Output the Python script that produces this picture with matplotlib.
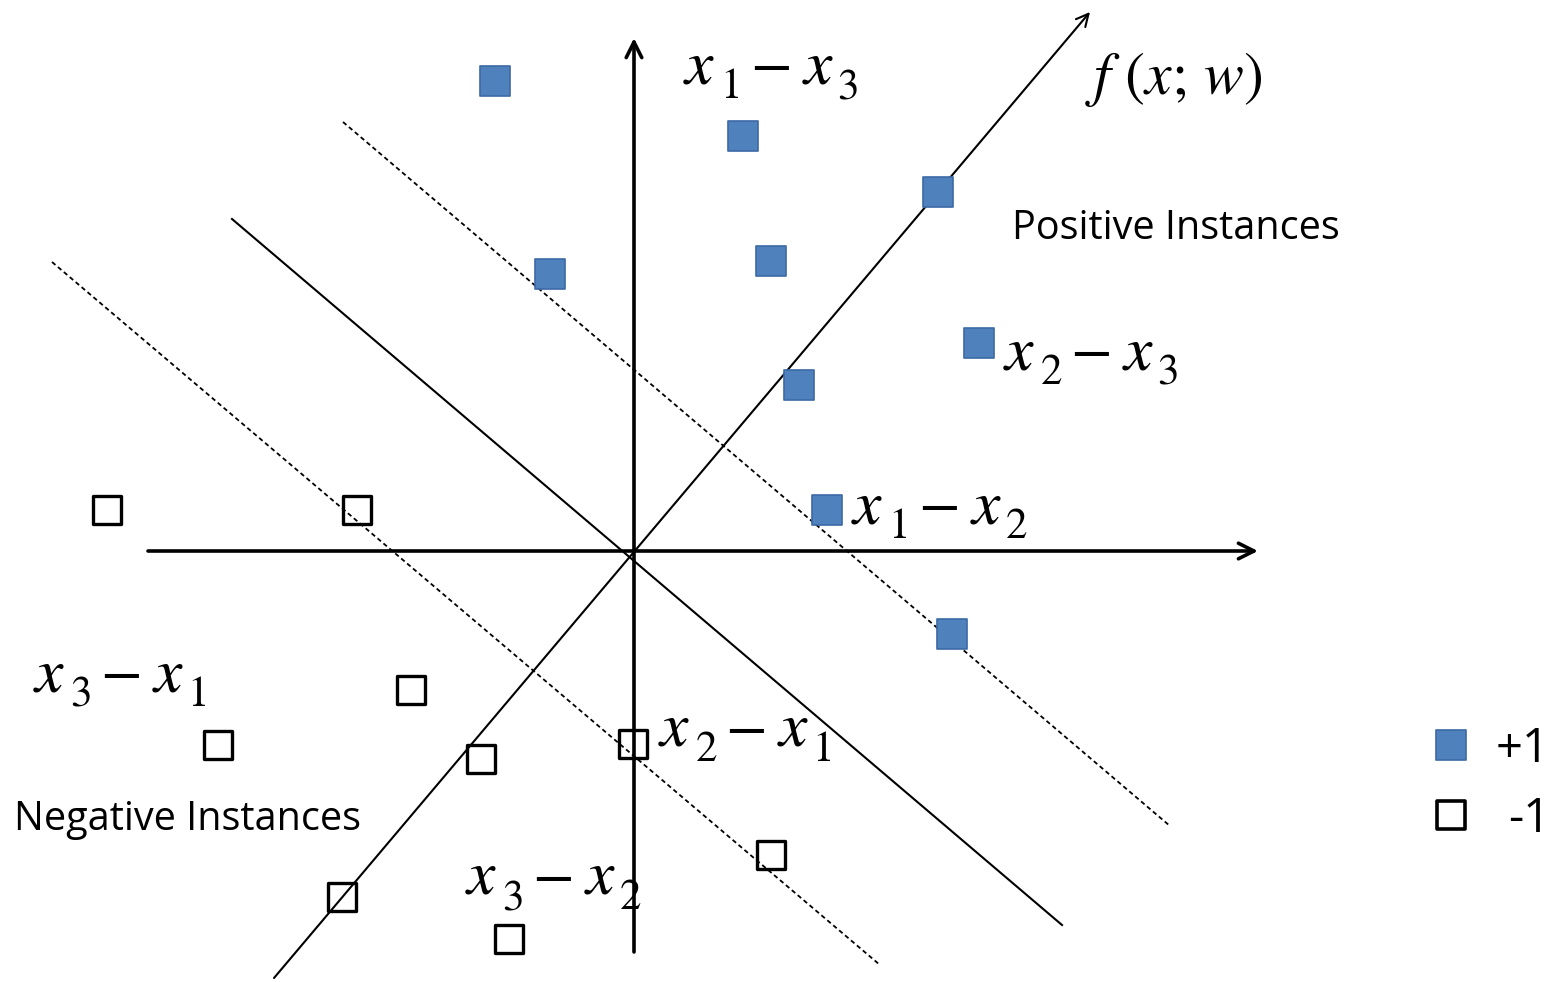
import matplotlib
matplotlib.use("Agg")
import matplotlib.pyplot as plt

# diagram coordinates (pixel space of the original sketch, y grows downward)
pos_x = [495, 743, 938, 550, 771, 979, 799, 827, 952]
pos_y = [81, 136, 192, 274, 261, 343, 385, 510, 634]
neg_x = [107, 357, 411, 218, 481, 633, 771, 342, 509]
neg_y = [510, 510, 690, 745, 759, 744, 855, 897, 939]

# separating lines: (x0, y0, x1, y1)
solid_line = (232, 219, 1062, 925)
dashed_lines = [(343, 122, 1170, 826), (52, 262, 880, 965)]
w_line = (274, 978, 1090, 12)
h_axis = (148, 551, 1258, 551)
v_axis = (634, 952, 634, 38)

# difference-vector labels: (first index, second index, left, baseline)
diff_labels = [
    ("1", "3", 683, 83),
    ("2", "3", 1003, 369),
    ("1", "2", 851, 523),
    ("3", "1", 33, 691),
    ("2", "1", 658, 746),
    ("3", "2", 465, 894),
]

BLUE = "#4F81BD"
BLUE_EDGE = "#3C6AA5"

plt.rcParams["mathtext.fontset"] = "stix"

fig = plt.figure(figsize=(15.6, 9.82), dpi=100)
ax = fig.add_axes([0, 0, 1, 1])
ax.set_xlim(0, 1560)
ax.set_ylim(982, 0)
ax.axis("off")

# lines
ax.plot(solid_line[::2], solid_line[1::2], color="black", lw=1.5)
for ln in dashed_lines:
    ax.plot(ln[::2], ln[1::2], color="black", lw=1.3, ls=(0, (2.5, 1.8)))

# arrows
for (x0, y0, x1, y1) in [h_axis, v_axis]:
    ax.annotate("", xy=(x1, y1), xytext=(x0, y0),
                arrowprops=dict(arrowstyle="->", lw=2.6, color="black",
                                mutation_scale=28, shrinkA=0, shrinkB=0))
ax.annotate("", xy=(w_line[2], w_line[3]), xytext=(w_line[0], w_line[1]),
            arrowprops=dict(arrowstyle="->", lw=1.5, color="black",
                            mutation_scale=22, shrinkA=0, shrinkB=0))

# points
ax.scatter(pos_x, pos_y, marker="s", s=21.5 ** 2, color=BLUE,
           edgecolor=BLUE_EDGE, linewidth=1.2, zorder=5)
ax.scatter(neg_x, neg_y, marker="s", s=20 ** 2, facecolor="none",
           edgecolor="black", linewidth=2.4, zorder=5)


def diff_label(a, b, lx, by):
    # x_a - x_b with the subscripts dropped low, as in the sketch
    kw = dict(ha="left", va="baseline", zorder=6)
    ax.text(lx, by, r"$x$", fontsize=46, **kw)
    ax.text(lx + 37, by + 15, "$\\mathrm{" + a + "}$", fontsize=31, **kw)
    ax.text(lx + 67, by - 2, r"$-$", fontsize=44, **kw)
    ax.text(lx + 119, by, r"$x$", fontsize=46, **kw)
    ax.text(lx + 154, by + 15, "$\\mathrm{" + b + "}$", fontsize=31, **kw)


for a, b, lx, by in diff_labels:
    diff_label(a, b, lx, by)

ax.text(1085, 94, r"$f\ (x;\,w)$", fontsize=43, ha="left", va="baseline")

ax.text(1012, 229, "Positive Instances", fontsize=28.5, family="Open Sans",
        ha="left", va="center")
ax.text(14, 820, "Negative Instances", fontsize=28.5, family="Open Sans",
        ha="left", va="center")

# legend
ax.scatter([1451], [745], marker="s", s=22 ** 2, color=BLUE,
           edgecolor=BLUE_EDGE, linewidth=1.2)
ax.scatter([1451], [815], marker="s", s=20.5 ** 2, facecolor="none",
           edgecolor="black", linewidth=2.6)
ax.text(1550, 749, "+1", fontsize=34, family="Open Sans", ha="right", va="center")
ax.text(1550, 819, "-1", fontsize=34, family="Open Sans", ha="right", va="center")

fig.savefig("out.png", dpi=100)
